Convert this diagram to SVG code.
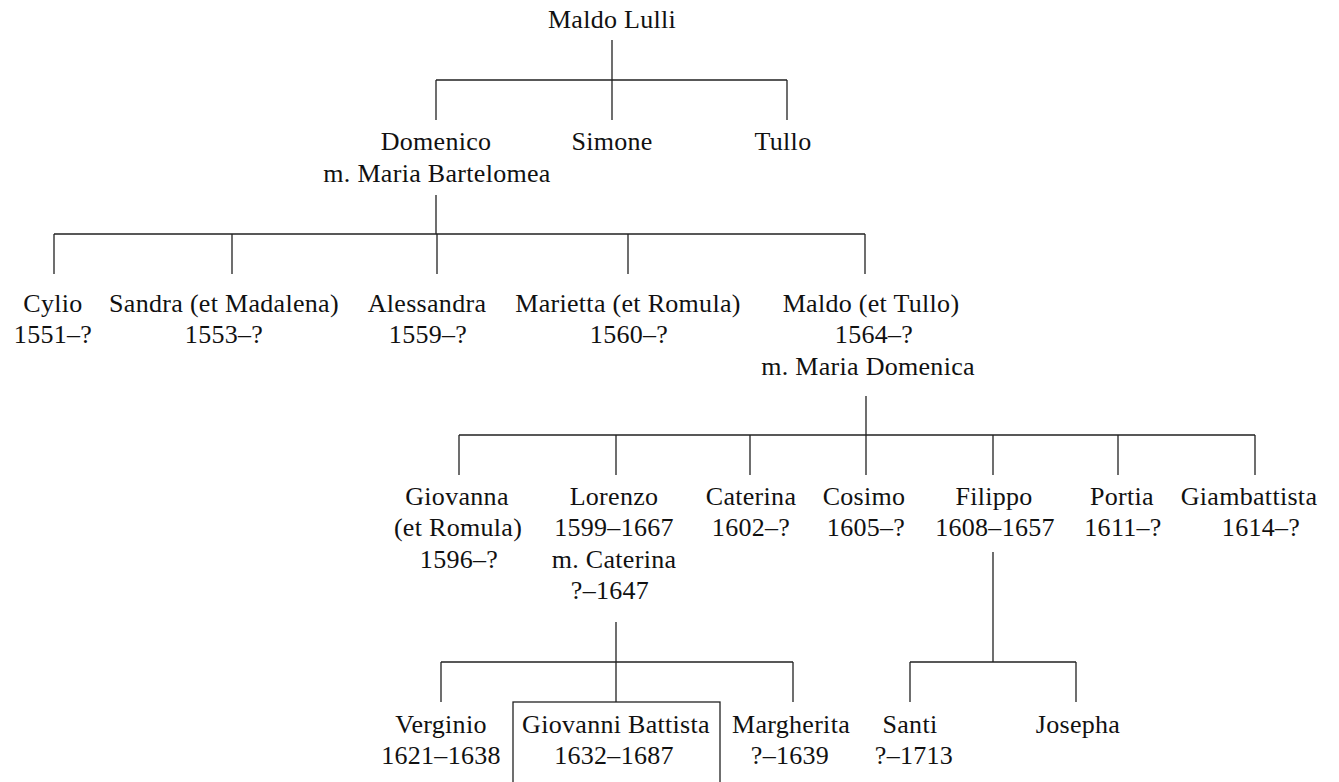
<svg xmlns="http://www.w3.org/2000/svg" width="1339" height="782" viewBox="0 0 1339 782">
<style>
text{font-family:"Liberation Serif","Times New Roman",serif;font-size:26px;fill:#111;text-anchor:middle;letter-spacing:0.3px}
.ln{fill:none;stroke:#222;stroke-width:1.3}
</style>
<rect width="1339" height="782" fill="#fff"/>
<g id="connectors" class="ln">
<path d="M612,40V80M436,80H787M436,80V120M612,80V120M787,80V120"/>
<path d="M436,195V234M54,234H865M54,234V274M232,234V274M437,234V274M628,234V274M865,234V274"/>
<path d="M866,396V475M459,435H1255M459,435V475M616,435V475M750,435V475M993,435V475M1118,435V475M1255,435V475"/>
<path d="M616,622V702M441,662H793M441,662V702M793,662V702"/>
<path d="M993,552V662M910,662H1076M910,662V702M1076,662V702"/>
</g>
<g id="maldo_lulli"><text x="612" y="28">Maldo Lulli</text></g>
<g id="domenico"><text x="436" y="150">Domenico</text><text x="437" y="182">m. Maria Bartelomea</text></g>
<g id="simone"><text x="612" y="150">Simone</text></g>
<g id="tullo"><text x="783" y="150">Tullo</text></g>
<g id="cylio"><text x="53" y="312">Cylio</text><text x="53" y="343">1551–?</text></g>
<g id="sandra"><text x="224" y="312">Sandra (et Madalena)</text><text x="224" y="343">1553–?</text></g>
<g id="alessandra"><text x="427" y="312">Alessandra</text><text x="428" y="343">1559–?</text></g>
<g id="marietta"><text x="628" y="312">Marietta (et Romula)</text><text x="629" y="343">1560–?</text></g>
<g id="maldo"><text x="871" y="312">Maldo (et Tullo)</text><text x="874" y="343">1564–?</text><text x="868" y="375">m. Maria Domenica</text></g>
<g id="giovanna"><text x="457" y="505">Giovanna</text><text x="458" y="536">(et Romula)</text><text x="459" y="568">1596–?</text></g>
<g id="lorenzo"><text x="614" y="505">Lorenzo</text><text x="614" y="536">1599–1667</text><text x="614" y="568">m. Caterina</text><text x="610" y="599">?–1647</text></g>
<g id="caterina"><text x="751" y="505">Caterina</text><text x="751" y="536">1602–?</text></g>
<g id="cosimo"><text x="864" y="505">Cosimo</text><text x="866" y="536">1605–?</text></g>
<g id="filippo"><text x="994" y="505">Filippo</text><text x="995" y="536">1608–1657</text></g>
<g id="portia"><text x="1122" y="505">Portia</text><text x="1123" y="536">1611–?</text></g>
<g id="giambattista"><text x="1249" y="505">Giambattista</text><text x="1261" y="536">1614–?</text></g>
<g id="verginio"><text x="441" y="733">Verginio</text><text x="441" y="764">1621–1638</text></g>
<g id="giovanni_battista"><rect class="ln" x="513" y="702" width="207" height="100"/><text x="616" y="733">Giovanni Battista</text><text x="614" y="764">1632–1687</text></g>
<g id="margherita"><text x="791" y="733">Margherita</text><text x="790" y="764">?–1639</text></g>
<g id="santi"><text x="910" y="733">Santi</text><text x="914" y="764">?–1713</text></g>
<g id="josepha"><text x="1078" y="733">Josepha</text></g>
</svg>
